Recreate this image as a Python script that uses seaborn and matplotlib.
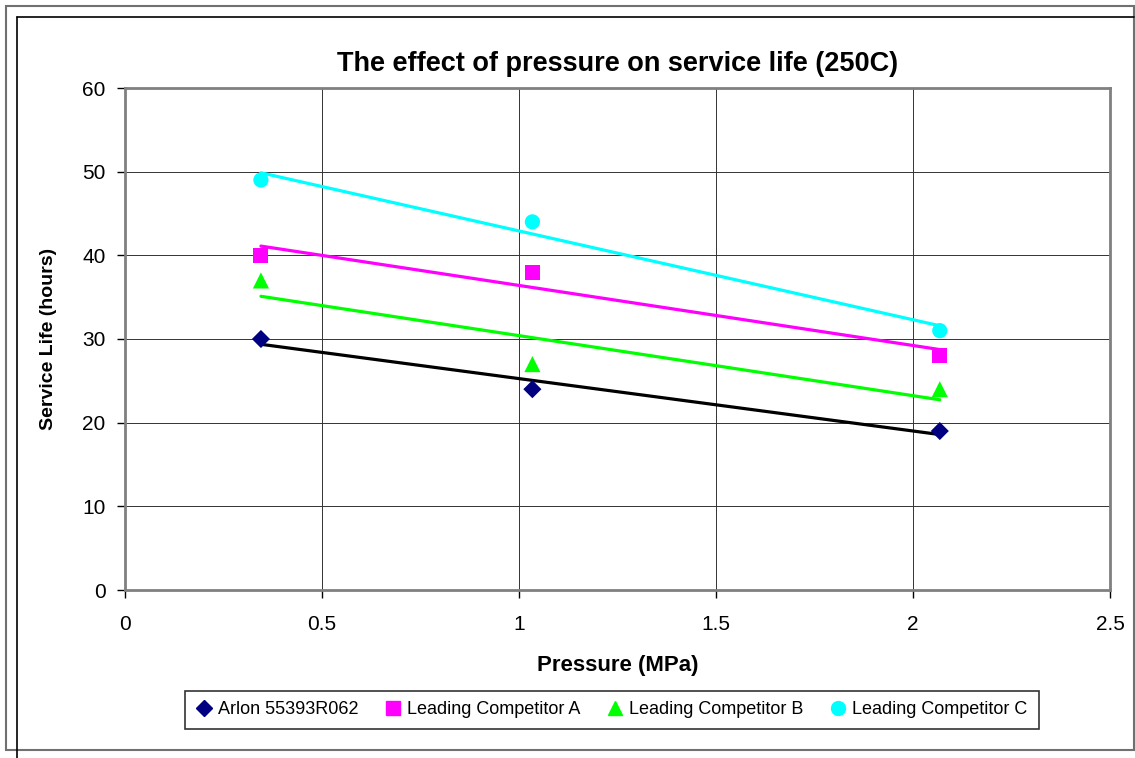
import matplotlib
matplotlib.use("Agg")
import matplotlib.pyplot as plt
from matplotlib.lines import Line2D
from matplotlib.patches import Rectangle
import seaborn as sns
import pandas as pd

# --- data ---
pressure = [0.345, 1.034, 2.068]
series_names = ['Arlon 55393R062', 'Leading Competitor A',
                'Leading Competitor B', 'Leading Competitor C']
arlon = [30, 24, 19]
comp_a = [40, 38, 28]
comp_b = [37, 27, 24]
comp_c = [49, 44, 31]
x_ticks = [0, 0.5, 1, 1.5, 2, 2.5]
x_tick_labels = ['0', '0.5', '1', '1.5', '2', '2.5']
y_ticks = [0, 10, 20, 30, 40, 50, 60]

marker_colors = ['#000080', '#ff00ff', '#00ff00', '#00ffff']
line_colors = ['#000000', '#ff00ff', '#00ff00', '#00ffff']
markers = ['D', 's', '^', 'o']
marker_sizes = [85, 115, 135, 120]

rows = []
for name, vals in zip(series_names, [arlon, comp_a, comp_b, comp_c]):
    for p, v in zip(pressure, vals):
        rows.append({'Pressure': p, 'Life': v, 'Series': name})
df = pd.DataFrame(rows)

sns.set_theme(style="white")
plt.rcParams['font.family'] = ['Liberation Sans', 'DejaVu Sans']
plt.rcParams['text.color'] = 'black'
plt.rcParams['axes.labelcolor'] = 'black'
plt.rcParams['xtick.color'] = 'black'
plt.rcParams['ytick.color'] = 'black'

W, H = 1135, 758
fig = plt.figure(figsize=(W / 100, H / 100), dpi=100)
fig.patch.set_facecolor('white')

# frames around the chart (pixel coords -> figure coords)
def px(x, y):
    return x / W, 1 - y / H

fig.add_artist(Rectangle(px(6, 750), (1134 - 6) / W, (750 - 6) / H, transform=fig.transFigure,
                         fill=False, edgecolor='#707070', lw=1.5))
fig.add_artist(Line2D([17 / W, 1134 / W], [1 - 17 / H, 1 - 17 / H], transform=fig.transFigure,
                      color='black', lw=1.2))
fig.add_artist(Line2D([17 / W, 17 / W], [1 - 17 / H, 0], transform=fig.transFigure,
                      color='black', lw=1.2))

left, top, right, bottom = 125, 88, 1110, 590
ax = fig.add_axes([left / W, 1 - bottom / H, (right - left) / W, (bottom - top) / H])

for i, name in enumerate(series_names):
    sub = df[df['Series'] == name]
    sns.regplot(data=sub, x='Pressure', y='Life', ax=ax, scatter=False, ci=None,
                truncate=True, color=line_colors[i], line_kws={'lw': 2.3, 'zorder': 3})
    sns.scatterplot(data=sub, x='Pressure', y='Life', ax=ax, marker=markers[i],
                    color=marker_colors[i], s=marker_sizes[i], edgecolor='none',
                    zorder=4, legend=False)

ax.set_xlim(0, 2.5)
ax.set_ylim(0, 60)
ax.set_xticks(x_ticks)
ax.set_xticklabels(x_tick_labels)
ax.set_yticks(y_ticks)
ax.grid(True, color='#333333', lw=0.7)
ax.set_axisbelow(True)

for spine in ax.spines.values():
    spine.set_visible(True)
    spine.set_edgecolor('#808080')
    spine.set_linewidth(2)

ax.tick_params(axis='both', which='major', direction='out', length=6, width=1,
               color='black', labelsize=15, bottom=True, left=True)
ax.tick_params(axis='x', pad=12)
ax.tick_params(axis='y', pad=8)

ax.set_title('The effect of pressure on service life (250C)', fontsize=19.5,
             fontweight='bold', pad=12)
ax.set_xlabel('Pressure (MPa)', fontsize=16, fontweight='bold', labelpad=15)
ax.set_ylabel('Service Life (hours)', fontsize=14, fontweight='bold', labelpad=18)

handles = [Line2D([], [], ls='none', marker=m, color=c, markersize=ms)
           for m, c, ms in zip(markers, marker_colors, [8, 9.5, 10.5, 10])]
leg = fig.legend(handles, series_names, loc='center', bbox_to_anchor=(612 / W, 1 - 710 / H),
                 ncol=4, frameon=True, fontsize=13, handlelength=0.8, handletextpad=0.4,
                 columnspacing=1.5, borderpad=0.6, fancybox=False)
leg.get_frame().set_edgecolor('black')
leg.get_frame().set_linewidth(1.2)

fig.savefig('out.png', dpi=100, facecolor='white')
